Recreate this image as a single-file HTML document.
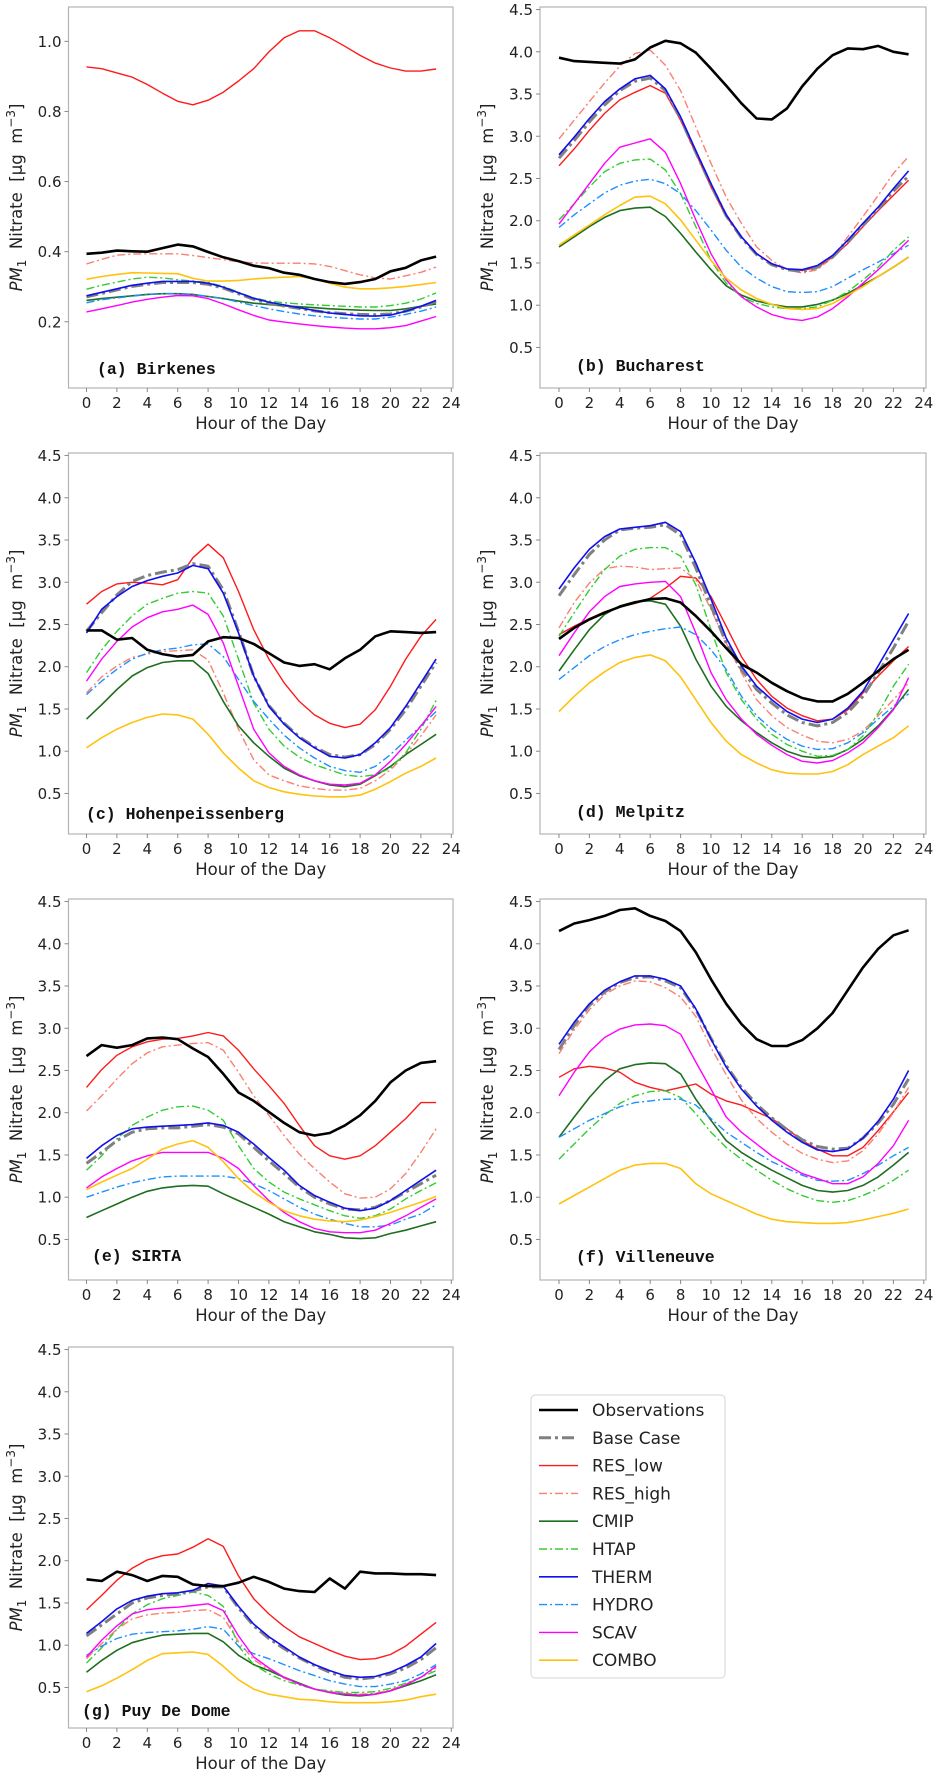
<!DOCTYPE html>
<html><head><meta charset="utf-8">
<style>
html,body{margin:0;padding:0;background:#fff;}
svg{display:block;font-family:"DejaVu Sans","Liberation Sans",sans-serif;}
.tick{font-size:15px;fill:#222;}
.ttl{font-size:16.5px;fill:#222;white-space:pre;}
.plab{font-family:"Liberation Mono","DejaVu Sans Mono",monospace;font-size:16.5px;font-weight:bold;fill:#111;white-space:pre;}
.leg{font-size:17px;fill:#222;}
</style></head>
<body>
<svg id="fig" width="934" height="1773" viewBox="0 0 934 1773" xmlns="http://www.w3.org/2000/svg"></svg>
<script>
const hours=[0,1,2,3,4,5,6,7,8,9,10,11,12,13,14,15,16,17,18,19,20,21,22,23];
const xTicks=[0,2,4,6,8,10,12,14,16,18,20,22,24];
const yTicksA=[0.2,0.4,0.6,0.8,1.0];
const yTicksB=[0.5,1.0,1.5,2.0,2.5,3.0,3.5,4.0,4.5];
const seriesNames=["Observations","Base Case","RES_low","RES_high","CMIP","HTAP","THERM","HYDRO","SCAV","COMBO"];

// (a) Birkenes
const a_obs=[0.394,0.397,0.403,0.401,0.400,0.410,0.420,0.415,0.399,0.384,0.373,0.360,0.353,0.340,0.334,0.322,0.313,0.308,0.313,0.322,0.344,0.354,0.375,0.386];
const a_base=[0.271,0.281,0.291,0.301,0.307,0.312,0.312,0.312,0.307,0.296,0.280,0.264,0.253,0.245,0.238,0.231,0.226,0.223,0.221,0.220,0.222,0.230,0.242,0.258];
const a_reslow=[0.927,0.922,0.910,0.898,0.877,0.852,0.829,0.819,0.832,0.855,0.887,0.922,0.970,1.010,1.030,1.030,1.010,0.986,0.960,0.938,0.924,0.915,0.915,0.921];
const a_reshigh=[0.365,0.378,0.390,0.393,0.394,0.394,0.394,0.389,0.383,0.377,0.371,0.368,0.367,0.367,0.367,0.365,0.358,0.346,0.334,0.325,0.322,0.331,0.341,0.356];
const a_cmip=[0.261,0.266,0.270,0.274,0.278,0.280,0.280,0.278,0.272,0.266,0.259,0.253,0.249,0.245,0.243,0.240,0.237,0.235,0.233,0.232,0.232,0.237,0.244,0.251];
const a_htap=[0.293,0.304,0.313,0.322,0.327,0.325,0.320,0.316,0.312,0.301,0.284,0.268,0.259,0.254,0.251,0.248,0.246,0.244,0.242,0.242,0.246,0.253,0.265,0.282];
const a_therm=[0.274,0.284,0.294,0.304,0.310,0.315,0.315,0.315,0.310,0.299,0.283,0.267,0.256,0.248,0.240,0.232,0.225,0.221,0.217,0.216,0.219,0.230,0.244,0.261];
const a_hydro=[0.254,0.263,0.268,0.273,0.278,0.280,0.280,0.278,0.272,0.266,0.256,0.246,0.237,0.229,0.222,0.217,0.213,0.210,0.208,0.208,0.213,0.221,0.230,0.242];
const a_scav=[0.228,0.237,0.246,0.256,0.264,0.270,0.275,0.274,0.266,0.251,0.234,0.218,0.205,0.199,0.194,0.189,0.185,0.182,0.180,0.180,0.183,0.189,0.202,0.215];
const a_combo=[0.321,0.329,0.335,0.340,0.339,0.338,0.337,0.324,0.316,0.316,0.318,0.322,0.325,0.327,0.329,0.322,0.310,0.299,0.294,0.294,0.297,0.301,0.306,0.312];

// (b) Bucharest
const b_obs=[3.93,3.89,3.88,3.87,3.86,3.91,4.05,4.13,4.10,3.99,3.80,3.60,3.39,3.21,3.20,3.33,3.59,3.80,3.96,4.04,4.03,4.07,4.00,3.97];
const b_base=[2.74,2.95,3.17,3.37,3.54,3.65,3.69,3.54,3.21,2.81,2.42,2.06,1.80,1.60,1.48,1.42,1.40,1.45,1.57,1.75,1.95,2.14,2.35,2.53];
const b_reslow=[2.65,2.85,3.07,3.27,3.43,3.52,3.60,3.51,3.19,2.80,2.40,2.05,1.81,1.61,1.49,1.43,1.41,1.45,1.57,1.73,1.93,2.12,2.30,2.48];
const b_reshigh=[2.97,3.19,3.41,3.63,3.83,3.98,4.02,3.84,3.54,3.11,2.68,2.28,1.97,1.69,1.53,1.42,1.38,1.42,1.57,1.81,2.05,2.30,2.56,2.76];
const b_cmip=[1.69,1.81,1.93,2.04,2.12,2.15,2.16,2.05,1.85,1.63,1.42,1.23,1.12,1.05,1.01,0.98,0.98,1.01,1.06,1.14,1.24,1.34,1.45,1.57];
const b_htap=[2.01,2.20,2.40,2.58,2.68,2.72,2.73,2.60,2.32,1.93,1.53,1.26,1.10,1.02,0.98,0.96,0.96,0.98,1.06,1.16,1.30,1.45,1.65,1.81];
const b_therm=[2.78,2.99,3.21,3.41,3.56,3.68,3.72,3.56,3.23,2.83,2.44,2.07,1.81,1.61,1.49,1.43,1.42,1.47,1.59,1.77,1.97,2.16,2.38,2.59];
const b_hydro=[1.92,2.07,2.20,2.33,2.42,2.47,2.49,2.44,2.32,2.12,1.89,1.65,1.45,1.32,1.22,1.16,1.15,1.16,1.22,1.32,1.42,1.51,1.61,1.71];
const b_scav=[1.96,2.20,2.44,2.68,2.87,2.92,2.97,2.81,2.44,2.01,1.61,1.30,1.10,0.98,0.89,0.84,0.82,0.86,0.96,1.10,1.26,1.42,1.59,1.77];
const b_combo=[1.71,1.83,1.95,2.07,2.18,2.28,2.29,2.20,2.01,1.77,1.53,1.32,1.18,1.08,1.01,0.96,0.95,0.96,1.02,1.12,1.22,1.34,1.45,1.57];

// (c) Hohenpeissenberg
const c_obs=[2.43,2.43,2.32,2.34,2.20,2.15,2.12,2.14,2.30,2.35,2.34,2.27,2.16,2.05,2.01,2.03,1.97,2.10,2.20,2.36,2.42,2.41,2.40,2.41];
const c_base=[2.42,2.64,2.85,3.01,3.08,3.12,3.15,3.22,3.19,2.91,2.42,1.89,1.54,1.33,1.17,1.05,0.96,0.93,0.96,1.08,1.26,1.49,1.77,2.05];
const c_reslow=[2.74,2.89,2.98,3.00,2.99,2.97,3.03,3.29,3.45,3.29,2.89,2.44,2.09,1.81,1.59,1.43,1.33,1.28,1.32,1.49,1.77,2.09,2.36,2.56];
const c_reshigh=[1.69,1.88,2.01,2.11,2.15,2.18,2.19,2.20,2.08,1.69,1.26,0.90,0.72,0.65,0.59,0.56,0.54,0.54,0.56,0.65,0.78,0.96,1.18,1.43];
const c_cmip=[1.38,1.55,1.73,1.89,1.99,2.05,2.07,2.07,1.92,1.59,1.30,1.10,0.94,0.80,0.71,0.65,0.60,0.58,0.61,0.71,0.82,0.96,1.08,1.20];
const c_htap=[1.93,2.20,2.42,2.60,2.74,2.81,2.87,2.89,2.87,2.60,2.09,1.57,1.26,1.06,0.93,0.84,0.78,0.72,0.70,0.72,0.80,0.98,1.26,1.60];
const c_therm=[2.40,2.68,2.83,2.95,3.02,3.07,3.11,3.20,3.16,2.87,2.40,1.89,1.53,1.32,1.16,1.04,0.94,0.92,0.96,1.10,1.28,1.53,1.81,2.09];
const c_hydro=[1.67,1.83,1.97,2.09,2.16,2.20,2.22,2.26,2.27,2.12,1.85,1.59,1.38,1.19,1.04,0.92,0.82,0.77,0.75,0.82,0.96,1.13,1.30,1.47];
const c_scav=[1.83,2.09,2.30,2.47,2.58,2.65,2.68,2.73,2.62,2.28,1.77,1.26,0.98,0.82,0.72,0.65,0.61,0.60,0.62,0.72,0.88,1.08,1.30,1.53];
const c_combo=[1.04,1.16,1.26,1.34,1.40,1.44,1.43,1.38,1.20,0.98,0.80,0.65,0.57,0.52,0.49,0.47,0.46,0.46,0.48,0.55,0.64,0.74,0.82,0.92];

// (d) Melpitz
const d_obs=[2.33,2.46,2.56,2.64,2.71,2.76,2.80,2.81,2.76,2.60,2.42,2.22,2.03,1.93,1.81,1.71,1.63,1.59,1.59,1.68,1.81,1.95,2.09,2.20];
const d_base=[2.84,3.09,3.33,3.50,3.62,3.64,3.65,3.68,3.56,3.17,2.72,2.28,1.97,1.73,1.57,1.43,1.34,1.30,1.34,1.46,1.65,1.93,2.22,2.54];
const d_reslow=[2.38,2.48,2.57,2.65,2.71,2.75,2.81,2.93,3.07,3.05,2.83,2.48,2.12,1.85,1.65,1.51,1.42,1.36,1.38,1.49,1.69,1.89,2.07,2.24];
const d_reshigh=[2.46,2.76,2.99,3.16,3.19,3.18,3.15,3.16,3.17,3.03,2.68,2.28,1.93,1.61,1.42,1.28,1.19,1.12,1.10,1.14,1.24,1.42,1.61,1.81];
const d_cmip=[1.95,2.20,2.44,2.62,2.72,2.77,2.78,2.74,2.48,2.09,1.77,1.53,1.36,1.22,1.10,1.00,0.94,0.92,0.94,1.02,1.14,1.30,1.50,1.73];
const d_htap=[2.36,2.64,2.91,3.15,3.31,3.39,3.41,3.41,3.31,2.97,2.44,1.93,1.61,1.38,1.20,1.08,1.00,0.94,0.95,1.02,1.18,1.45,1.77,2.03];
const d_therm=[2.92,3.17,3.39,3.54,3.63,3.65,3.67,3.71,3.60,3.23,2.80,2.34,2.01,1.77,1.61,1.47,1.38,1.34,1.38,1.51,1.71,2.01,2.32,2.63];
const d_hydro=[1.85,1.99,2.13,2.24,2.32,2.38,2.42,2.45,2.47,2.38,2.20,1.97,1.65,1.42,1.26,1.14,1.06,1.02,1.03,1.10,1.22,1.38,1.53,1.68];
const d_scav=[2.13,2.40,2.65,2.83,2.95,2.98,3.00,3.01,2.83,2.40,1.93,1.61,1.38,1.20,1.07,0.96,0.88,0.86,0.89,0.98,1.10,1.28,1.49,1.87];
const d_combo=[1.47,1.65,1.81,1.94,2.05,2.11,2.14,2.07,1.88,1.61,1.34,1.12,0.96,0.86,0.78,0.74,0.73,0.73,0.76,0.84,0.96,1.06,1.16,1.30];

// (e) SIRTA
const e_obs=[2.67,2.80,2.77,2.80,2.88,2.89,2.87,2.76,2.66,2.46,2.24,2.14,2.01,1.88,1.77,1.73,1.76,1.85,1.97,2.14,2.36,2.50,2.59,2.61];
const e_base=[1.40,1.53,1.67,1.77,1.81,1.82,1.82,1.84,1.86,1.83,1.75,1.59,1.43,1.28,1.12,1.00,0.92,0.86,0.85,0.88,0.96,1.06,1.16,1.26];
const e_reslow=[2.30,2.51,2.68,2.78,2.84,2.87,2.88,2.91,2.95,2.91,2.74,2.52,2.32,2.11,1.85,1.61,1.49,1.45,1.49,1.61,1.77,1.93,2.12,2.12];
const e_reshigh=[2.02,2.20,2.40,2.58,2.71,2.78,2.80,2.82,2.83,2.74,2.48,2.20,1.97,1.73,1.51,1.34,1.18,1.04,0.99,1.00,1.10,1.28,1.53,1.81];
const e_cmip=[0.76,0.84,0.92,1.00,1.07,1.11,1.13,1.14,1.13,1.04,0.96,0.88,0.80,0.71,0.65,0.59,0.56,0.52,0.51,0.52,0.57,0.61,0.66,0.71];
const e_htap=[1.32,1.49,1.69,1.85,1.95,2.03,2.07,2.08,2.03,1.91,1.61,1.34,1.18,1.06,0.98,0.91,0.84,0.78,0.75,0.78,0.86,0.98,1.08,1.17];
const e_therm=[1.46,1.61,1.73,1.81,1.83,1.84,1.85,1.86,1.88,1.85,1.77,1.63,1.47,1.32,1.14,1.02,0.94,0.87,0.84,0.87,0.96,1.08,1.20,1.32];
const e_hydro=[1.00,1.06,1.12,1.17,1.21,1.24,1.25,1.25,1.25,1.25,1.22,1.16,1.08,0.98,0.88,0.80,0.74,0.69,0.65,0.65,0.67,0.74,0.80,0.91];
const e_scav=[1.11,1.24,1.34,1.43,1.49,1.53,1.53,1.53,1.53,1.46,1.34,1.14,0.96,0.82,0.71,0.63,0.59,0.58,0.58,0.61,0.69,0.78,0.88,0.98];
const e_combo=[1.09,1.18,1.26,1.34,1.45,1.57,1.63,1.67,1.59,1.42,1.22,1.06,0.94,0.84,0.78,0.74,0.72,0.71,0.73,0.77,0.82,0.88,0.94,1.01];

// (f) Villeneuve
const f_obs=[4.15,4.24,4.28,4.33,4.40,4.42,4.33,4.27,4.15,3.90,3.58,3.29,3.05,2.87,2.79,2.79,2.86,3.00,3.18,3.45,3.72,3.94,4.10,4.16];
const f_base=[2.75,3.03,3.27,3.43,3.54,3.60,3.61,3.56,3.48,3.22,2.88,2.56,2.30,2.10,1.94,1.80,1.68,1.60,1.57,1.58,1.70,1.88,2.10,2.40];
const f_reslow=[2.42,2.52,2.55,2.53,2.48,2.36,2.30,2.26,2.30,2.34,2.22,2.14,2.09,2.01,1.93,1.81,1.67,1.57,1.49,1.49,1.59,1.79,2.01,2.24];
const f_reshigh=[2.70,2.98,3.22,3.40,3.50,3.56,3.55,3.48,3.37,3.14,2.77,2.45,2.15,1.93,1.77,1.63,1.52,1.45,1.41,1.43,1.55,1.75,2.00,2.30];
const f_cmip=[1.71,1.95,2.18,2.38,2.52,2.57,2.59,2.58,2.46,2.16,1.91,1.67,1.53,1.42,1.32,1.23,1.14,1.08,1.06,1.08,1.14,1.24,1.38,1.53];
const f_htap=[1.45,1.63,1.81,1.97,2.11,2.20,2.25,2.26,2.18,1.99,1.77,1.59,1.45,1.32,1.20,1.10,1.02,0.96,0.94,0.96,1.02,1.10,1.20,1.32];
const f_therm=[2.81,3.07,3.29,3.45,3.55,3.62,3.62,3.58,3.50,3.23,2.87,2.54,2.28,2.08,1.91,1.77,1.65,1.56,1.54,1.57,1.70,1.90,2.16,2.50];
const f_hydro=[1.71,1.81,1.91,1.99,2.07,2.12,2.14,2.16,2.16,2.09,1.93,1.77,1.65,1.53,1.42,1.34,1.26,1.20,1.19,1.20,1.28,1.38,1.49,1.59];
const f_scav=[2.20,2.48,2.72,2.89,2.99,3.04,3.05,3.03,2.93,2.60,2.28,1.95,1.77,1.63,1.49,1.38,1.28,1.22,1.16,1.16,1.24,1.40,1.61,1.91];
const f_combo=[0.92,1.02,1.12,1.22,1.32,1.38,1.40,1.40,1.34,1.16,1.04,0.96,0.88,0.80,0.74,0.71,0.70,0.69,0.69,0.70,0.73,0.77,0.81,0.86];

// (g) Puy De Dome
const g_obs=[1.78,1.76,1.87,1.83,1.76,1.82,1.81,1.72,1.70,1.70,1.74,1.81,1.75,1.67,1.64,1.63,1.79,1.67,1.87,1.85,1.85,1.84,1.84,1.83];
const g_base=[1.11,1.24,1.37,1.50,1.56,1.59,1.61,1.64,1.69,1.69,1.44,1.23,1.08,0.96,0.85,0.76,0.68,0.62,0.60,0.62,0.66,0.73,0.83,0.97];
const g_reslow=[1.42,1.59,1.77,1.91,2.01,2.06,2.08,2.16,2.26,2.17,1.82,1.55,1.37,1.22,1.10,1.02,0.94,0.87,0.83,0.84,0.89,0.99,1.13,1.27];
const g_reshigh=[0.84,1.02,1.19,1.31,1.36,1.38,1.39,1.41,1.42,1.33,1.04,0.83,0.71,0.61,0.54,0.48,0.45,0.43,0.42,0.43,0.47,0.54,0.62,0.73];
const g_cmip=[0.68,0.82,0.94,1.03,1.08,1.12,1.13,1.14,1.14,1.04,0.88,0.77,0.70,0.62,0.55,0.48,0.44,0.41,0.40,0.42,0.46,0.52,0.58,0.65];
const g_htap=[0.79,0.97,1.19,1.37,1.48,1.55,1.59,1.63,1.59,1.46,0.99,0.77,0.66,0.58,0.53,0.48,0.46,0.44,0.44,0.45,0.49,0.55,0.62,0.70];
const g_therm=[1.14,1.28,1.43,1.53,1.58,1.61,1.62,1.65,1.73,1.70,1.46,1.25,1.10,0.98,0.86,0.77,0.70,0.64,0.62,0.63,0.68,0.76,0.86,1.02];
const g_hydro=[0.88,0.99,1.08,1.13,1.15,1.16,1.17,1.19,1.22,1.19,0.99,0.90,0.84,0.77,0.70,0.64,0.58,0.54,0.51,0.51,0.54,0.58,0.66,0.77];
const g_scav=[0.86,1.06,1.23,1.37,1.42,1.44,1.45,1.47,1.49,1.41,1.11,0.86,0.73,0.62,0.54,0.48,0.44,0.42,0.41,0.42,0.46,0.53,0.62,0.75];
const g_combo=[0.45,0.52,0.61,0.71,0.82,0.90,0.91,0.92,0.89,0.75,0.59,0.48,0.42,0.39,0.36,0.35,0.33,0.32,0.32,0.32,0.33,0.35,0.39,0.42];

const NS="http://www.w3.org/2000/svg";
const svg=document.getElementById('fig');
function mk(tag,attrs,parent){const e=document.createElementNS(NS,tag);for(const k in attrs)e.setAttribute(k,attrs[k]);(parent||svg).appendChild(e);return e;}

const styles={
 "Observations":{c:"#000000",w:2.6,d:null,key:"obs"},
 "Base Case":{c:"#808080",w:3,d:"12,4,3,4",key:"base"},
 "RES_low":{c:"#ff1a1a",w:1.4,d:null,key:"reslow"},
 "RES_high":{c:"#fa8072",w:1.4,d:"8,3,2,3",key:"reshigh"},
 "CMIP":{c:"#1f6e1f",w:1.6,d:null,key:"cmip"},
 "HTAP":{c:"#32cd32",w:1.4,d:"8,3,2,3",key:"htap"},
 "THERM":{c:"#1010ee",w:1.6,d:null,key:"therm"},
 "HYDRO":{c:"#1e90ff",w:1.4,d:"8,3,2,3",key:"hydro"},
 "SCAV":{c:"#ff00ff",w:1.4,d:null,key:"scav"},
 "COMBO":{c:"#ffc20e",w:1.6,d:null,key:"combo"}
};
const drawOrder=["RES_low","RES_high","CMIP","HTAP","HYDRO","SCAV","COMBO","Base Case","THERM","Observations"];

const panelData={
 a:{obs:a_obs,base:a_base,reslow:a_reslow,reshigh:a_reshigh,cmip:a_cmip,htap:a_htap,therm:a_therm,hydro:a_hydro,scav:a_scav,combo:a_combo},
 b:{obs:b_obs,base:b_base,reslow:b_reslow,reshigh:b_reshigh,cmip:b_cmip,htap:b_htap,therm:b_therm,hydro:b_hydro,scav:b_scav,combo:b_combo},
 c:{obs:c_obs,base:c_base,reslow:c_reslow,reshigh:c_reshigh,cmip:c_cmip,htap:c_htap,therm:c_therm,hydro:c_hydro,scav:c_scav,combo:c_combo},
 d:{obs:d_obs,base:d_base,reslow:d_reslow,reshigh:d_reshigh,cmip:d_cmip,htap:d_htap,therm:d_therm,hydro:d_hydro,scav:d_scav,combo:d_combo},
 e:{obs:e_obs,base:e_base,reslow:e_reslow,reshigh:e_reshigh,cmip:e_cmip,htap:e_htap,therm:e_therm,hydro:e_hydro,scav:e_scav,combo:e_combo},
 f:{obs:f_obs,base:f_base,reslow:f_reslow,reshigh:f_reshigh,cmip:f_cmip,htap:f_htap,therm:f_therm,hydro:f_hydro,scav:f_scav,combo:f_combo},
 g:{obs:g_obs,base:g_base,reslow:g_reslow,reshigh:g_reshigh,cmip:g_cmip,htap:g_htap,therm:g_therm,hydro:g_hydro,scav:g_scav,combo:g_combo}
};

const panels=[
 {id:"a",title:"(a) Birkenes",col:0,row:0,ymin:0.011,ymax:1.098,yt:yTicksA,lx:97,lb:14},
 {id:"b",title:"(b) Bucharest",col:1,row:0,ymin:0.02,ymax:4.53,yt:yTicksB,lx:576,lb:17},
 {id:"c",title:"(c) Hohenpeissenberg",col:0,row:1,ymin:0.02,ymax:4.53,yt:yTicksB,lx:86,lb:15},
 {id:"d",title:"(d) Melpitz",col:1,row:1,ymin:0.02,ymax:4.53,yt:yTicksB,lx:576,lb:17},
 {id:"e",title:"(e) SIRTA",col:0,row:2,ymin:0.02,ymax:4.53,yt:yTicksB,lx:92,lb:19},
 {id:"f",title:"(f) Villeneuve",col:1,row:2,ymin:0.02,ymax:4.53,yt:yTicksB,lx:576,lb:18},
 {id:"g",title:"(g) Puy De Dome",col:0,row:3,ymin:0.02,ymax:4.53,yt:yTicksB,lx:82,lb:12}
];
const colL=[68.5,540], colR=[453,926], x0=[86.5,559], pxH=15.2;
const rowBottom=[388,834,1280,1728], H=381;

panels.forEach(p=>{
  const L=colL[p.col],R=colR[p.col],B=rowBottom[p.row],T=B-H;
  const g=mk('g',{});
  
  
  const xs=h=>x0[p.col]+h*pxH;
  const ys=v=>T+(p.ymax-v)/(p.ymax-p.ymin)*H;
  const cp=mk('clipPath',{id:'clip'+p.id},g);
  mk('rect',{x:L,y:T,width:R-L,height:H},cp);
  const lines=mk('g',{'clip-path':'url(#clip'+p.id+')'},g);
  
  
  drawOrder.forEach(n=>{
    const st=styles[n]; const vals=panelData[p.id][st.key];
    const pts=hours.map((h,i)=>xs(h).toFixed(1)+','+ys(vals[i]).toFixed(1)).join(' ');
    const pl=mk('polyline',{points:pts,fill:'none',stroke:st.c,'stroke-width':st.w,'stroke-linejoin':'round'},lines);
    if(st.d) pl.setAttribute('stroke-dasharray',st.d);
    
    
  });
  const fr=mk('rect',{x:L,y:T,width:R-L,height:H,fill:'none',stroke:'#b3b3b3','stroke-width':1.2},g);
  
  
  // x ticks
  xTicks.forEach(t=>{
    const x=xs(t);
    mk('line',{x1:x,x2:x,y1:B,y2:B+4,stroke:'#888','stroke-width':1},g);
    const tx=mk('text',{x:x,y:B+20,'text-anchor':'middle',class:'tick'},g);
    tx.textContent=String(t);
    
    
  });
  const xt=mk('text',{x:(L+R)/2,y:B+41,'text-anchor':'middle',class:'ttl'},g);
  xt.textContent='Hour of the Day';
  
  
  // y ticks
  p.yt.forEach(t=>{
    const y=ys(t);
    mk('line',{x1:L-4,x2:L,y1:y,y2:y,stroke:'#888','stroke-width':1},g);
    const ty=mk('text',{x:L-7,y:y+5.5,'text-anchor':'end',class:'tick'},g);
    ty.textContent=t.toFixed(1);
    
    
  });
  // y title
  const cx=p.col===0?22:493, cy=T+H/2;
  const yt=mk('text',{x:cx,y:cy,'text-anchor':'middle',class:'ttl',transform:'rotate(-90 '+cx+' '+cy+')'},g);
  
  
  const t1=mk('tspan',{'font-style':'italic'},yt); t1.textContent='PM';
  const t2=mk('tspan',{dy:4,'font-size':'12'},yt); t2.textContent='1';
  const t3=mk('tspan',{dy:-4},yt); t3.textContent='  Nitrate  [μg  m';
  const t4=mk('tspan',{dy:-7,'font-size':'12'},yt); t4.textContent='−3';
  const t5=mk('tspan',{dy:7},yt); t5.textContent=']';
  // panel label
  const pl=mk('text',{x:p.lx,y:B-p.lb,class:'plab'},g);
  pl.textContent=p.title;
  
  
});

// legend
const lg=mk('g',{});


mk('rect',{x:531,y:1395,width:194,height:283,rx:4,fill:'#fff',stroke:'#d6d6d6','stroke-width':1},lg);
seriesNames.forEach((n,i)=>{
  const st=styles[n]; const y=1410+i*27.8;
  const e=mk('g',{},lg);
  
  
  const l=mk('line',{x1:539,x2:578,y1:y,y2:y,stroke:st.c,'stroke-width':st.w},e);
  if(st.d) l.setAttribute('stroke-dasharray',st.d);
  const t=mk('text',{x:592,y:y+6,class:'leg'},e);
  t.textContent=n;
});
</script>
</body></html>
